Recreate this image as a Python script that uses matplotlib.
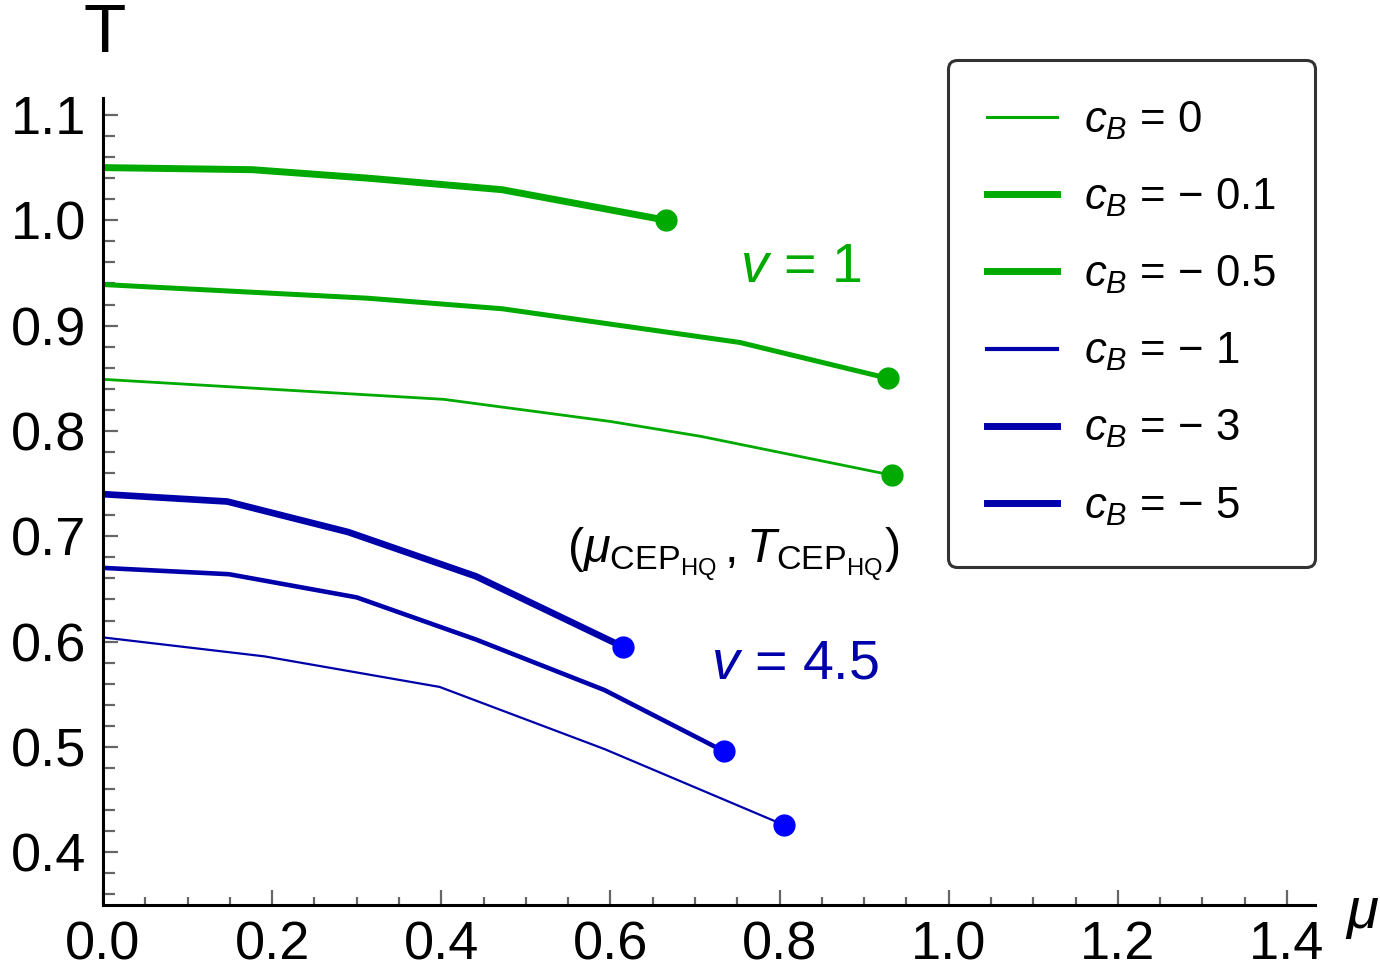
import matplotlib
matplotlib.use("Agg")
import matplotlib.pyplot as plt
from matplotlib.ticker import MultipleLocator, FormatStrFormatter

plt.rcParams['font.family'] = ['Liberation Sans', 'DejaVu Sans']
plt.rcParams['mathtext.fontset'] = 'custom'
plt.rcParams['mathtext.rm'] = 'Liberation Sans'
plt.rcParams['mathtext.it'] = 'Liberation Sans:italic'
plt.rcParams['mathtext.bf'] = 'Liberation Sans:bold'

# curves: mu values and T values
# v = 1 (green)
mu_cb0 = [0.0, 0.403, 0.600, 0.706, 0.933]
T_cb0 = [0.849, 0.830, 0.809, 0.795, 0.758]
mu_cb01 = [0.0, 0.313, 0.472, 0.753, 0.928]
T_cb01 = [0.939, 0.926, 0.916, 0.884, 0.850]
mu_cb05 = [0.0, 0.177, 0.313, 0.472, 0.666]
T_cb05 = [1.050, 1.048, 1.040, 1.029, 1.000]
# v = 4.5 (blue)
mu_cb1 = [0.0, 0.191, 0.398, 0.593, 0.805]
T_cb1 = [0.604, 0.586, 0.557, 0.498, 0.426]
mu_cb3 = [0.0, 0.149, 0.300, 0.441, 0.593, 0.734]
T_cb3 = [0.670, 0.664, 0.642, 0.602, 0.554, 0.496]
mu_cb5 = [0.0, 0.147, 0.290, 0.441, 0.615]
T_cb5 = [0.740, 0.733, 0.704, 0.662, 0.595]

labels = ['$c_B$ = 0', '$c_B$ = \u2212 0.1', '$c_B$ = \u2212 0.5',
          '$c_B$ = \u2212 1', '$c_B$ = \u2212 3', '$c_B$ = \u2212 5']

green = '#00AA00'
blue = '#0000AA'
dot_blue = '#0000FF'

fig = plt.figure(figsize=(13.8, 9.71), dpi=100)
ax = fig.add_axes([0.0746, 0.068, 0.878, 0.831])

curves = [
    (mu_cb0, T_cb0, green, green, 2.0),
    (mu_cb01, T_cb01, green, green, 3.6),
    (mu_cb05, T_cb05, green, green, 5.0),
    (mu_cb1, T_cb1, blue, dot_blue, 1.6),
    (mu_cb3, T_cb3, blue, dot_blue, 3.3),
    (mu_cb5, T_cb5, blue, dot_blue, 4.8),
]
handles = []
for (mu, T, c, dc, lw), lab in zip(curves, labels):
    h, = ax.plot(mu, T, color=c, lw=lw, label=lab, solid_joinstyle='round')
    ax.plot(mu[-1], T[-1], 'o', color=dc, markersize=15, zorder=3)
    handles.append(h)

ax.set_xlim(0, 1.4326)
ax.set_ylim(0.35, 1.116)
ax.spines['top'].set_visible(False)
ax.spines['right'].set_visible(False)
ax.spines['left'].set_linewidth(2.2)
ax.spines['bottom'].set_linewidth(2.2)

ax.xaxis.set_major_locator(MultipleLocator(0.2))
ax.xaxis.set_minor_locator(MultipleLocator(0.05))
ax.yaxis.set_major_locator(MultipleLocator(0.1))
ax.yaxis.set_minor_locator(MultipleLocator(0.02))
ax.xaxis.set_major_formatter(FormatStrFormatter('%.1f'))
ax.yaxis.set_major_formatter(FormatStrFormatter('%.1f'))
ax.tick_params(which='both', direction='in', color='#666666', width=1.6, labelsize=39)
ax.tick_params(axis='x', which='major', length=11, pad=11)
ax.tick_params(axis='x', which='minor', length=6)
ax.tick_params(axis='y', which='major', length=11, pad=12)
ax.tick_params(axis='y', which='minor', length=8.5)

fig.text(0.076, 0.965, 'T', ha='center', va='center', fontsize=50)
fig.text(0.987, 0.059, r'$\mu$', ha='center', va='center', fontsize=42)

ax.text(0.825, 0.955, '$v$ = 1', color=green, ha='center', va='center', fontsize=40)
ax.text(0.818, 0.578, '$v$ = 4.5', color=blue, ha='center', va='center', fontsize=40)
ax.text(0.745, 0.683, r'$(\mu_{\mathrm{CEP}_{\mathrm{HQ}}}\,,T_{\mathrm{CEP}_{\mathrm{HQ}}})$',
        ha='center', va='center', fontsize=35)

leg = ax.legend(handles=handles, loc='upper left', bbox_to_anchor=(948 / 1380, 1 - 60 / 971),
                bbox_transform=fig.transFigure, fontsize=31.5, frameon=True, fancybox=True,
                handlelength=1.6, handletextpad=0.6, labelspacing=0.8, borderpad=0.9,
                borderaxespad=0)
leg.get_frame().set_edgecolor('black')
leg.get_frame().set_linewidth(2.2)
for ln, lw in zip(leg.get_lines(), [2.2, 5, 5, 3, 5, 5]):
    ln.set_linewidth(lw)

plt.savefig('out.png', dpi=100)
